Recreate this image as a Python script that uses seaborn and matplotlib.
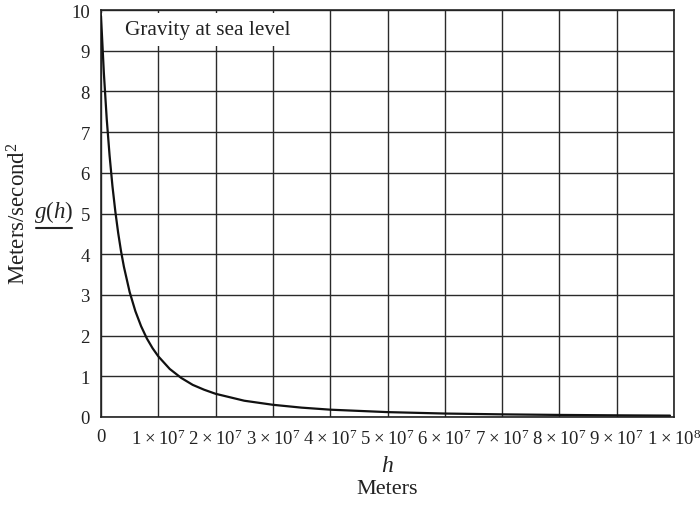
import matplotlib
matplotlib.use("Agg")
import matplotlib.pyplot as plt
import seaborn as sns
import pandas as pd
from matplotlib.patches import Rectangle
from matplotlib.lines import Line2D

# Data (h in metres, g in m/s^2)
h_values = [0.0, 0.05e7, 0.1e7, 0.15e7, 0.2e7, 0.25e7, 0.3e7, 0.35e7, 0.4e7, 0.5e7,
            0.6e7, 0.7e7, 0.8e7, 0.9e7, 1.0e7, 1.2e7, 1.4e7, 1.6e7, 1.8e7, 2.0e7,
            2.5e7, 3.0e7, 3.5e7, 4.0e7, 5.0e7, 6.0e7, 7.0e7, 8.0e7, 9.0e7, 9.93e7]
g_values = [9.85, 8.45, 7.32, 6.42, 5.67, 5.05, 4.52, 4.07, 3.69, 3.07,
            2.60, 2.23, 1.93, 1.69, 1.49, 1.18, 0.96, 0.79, 0.67, 0.57,
            0.40, 0.30, 0.23, 0.18, 0.12, 0.085, 0.065, 0.051, 0.041, 0.034]
x_ticks = [0, 1e7, 2e7, 3e7, 4e7, 5e7, 6e7, 7e7, 8e7, 9e7, 1e8]
x_tick_labels = ["0"] + [f"{i}\u2009\u00d7\u200910$^7$" for i in range(1, 10)] + ["1\u2009\u00d7\u200910$^8$"]
y_ticks = list(range(0, 11))
annotation = "Gravity at sea level"

sns.set_theme(style="white")
plt.rcParams["font.family"] = ["Liberation Serif", "DejaVu Serif"]
plt.rcParams["mathtext.fontset"] = "custom"
plt.rcParams["mathtext.rm"] = "Liberation Serif"
plt.rcParams["mathtext.it"] = "Liberation Serif:italic"
plt.rcParams["mathtext.default"] = "regular"

fig = plt.figure(figsize=(7.0, 5.06), dpi=100)
ax = fig.add_axes([101/700, 1 - 418/506, 573/700, 407/506])

df = pd.DataFrame({"h": h_values, "g": g_values})
sns.lineplot(data=df, x="h", y="g", ax=ax, color="#111111", linewidth=1.6, zorder=5)

ax.set_xlim(0, 1e8)
ax.set_ylim(0, 10)
ax.set_xticks(x_ticks)
ax.set_xticklabels(x_tick_labels, fontsize=13.5)
ax.set_yticks(y_ticks)
ax.set_yticklabels([str(v) for v in y_ticks], fontsize=13.5)
ax.tick_params(axis="both", length=0, colors="#222222")
ax.tick_params(axis="x", pad=8)
ax.tick_params(axis="y", pad=8)
ax.grid(True, color="#2a2a2a", linewidth=1.0)
ax.set_axisbelow(True)
for s in ax.spines.values():
    s.set_color("#222222")
    s.set_linewidth(1.2)
ax.set_xlabel("")
ax.set_ylabel("")

# white label box
ax.add_patch(Rectangle((0.0025, 0.912), 0.36, 0.081, transform=ax.transAxes,
                       facecolor="white", edgecolor="none", zorder=3))
ax.text(0.042, 0.952, annotation, transform=ax.transAxes, fontsize=15.3,
        ha="left", va="center", color="#222222", zorder=4)

# axis labels
fig.text(387/700, 1 - 467/506, "$\\mathit{h}$", ha="center", va="center", fontsize=17, color="#222222")
fig.text(387/700, 1 - 490/506, "Meters", ha="center", va="center", fontsize=16, color="#222222")
fig.text(19/700, 1 - 214/506, "Meters/second$^2$", rotation=90, ha="center", va="center",
         fontsize=16.5, color="#222222")
fig.text(54/700, 1 - 212/506, "$\\mathit{g}$($\\mathit{h}$)", ha="center", va="center",
         fontsize=16.5, color="#222222")
fig.add_artist(Line2D([36/700, 72/700], [1 - 229/506, 1 - 229/506], transform=fig.transFigure,
                      color="#222222", linewidth=1.5))

fig.savefig("out.png", dpi=100)
